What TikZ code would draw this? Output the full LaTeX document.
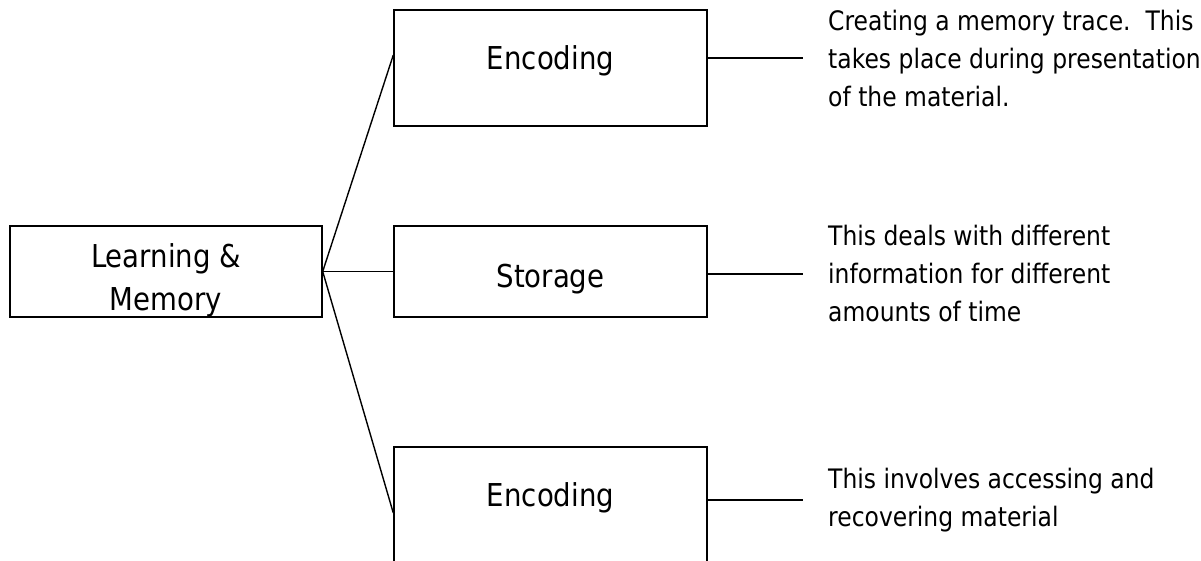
\documentclass[tikz,border=0pt]{standalone}
\usepackage{fontspec}
\setmainfont{DejaVu Sans}[FakeStretch=0.875]
\begin{document}
\begin{tikzpicture}[x=1pt,y=-1pt,
  box/.style={draw,line width=1.4pt,inner sep=0pt},
  boxtext/.style={inner sep=0pt,align=center,font=\fontsize{31.5}{43}\selectfont},
  note/.style={anchor=west,inner sep=0pt,align=left,font=\fontsize{26.8}{38}\selectfont},
  conn/.style={line width=1.4pt}]
\useasboundingbox (0,0) rectangle (1201,561);
\node[box,minimum width=312pt,minimum height=91pt] (lm) at (166,271.5) {};
\node[box,minimum width=313pt,minimum height=116pt] (enc) at (550.5,68) {};
\node[box,minimum width=313pt,minimum height=91pt] (sto) at (550.5,271.5) {};
\node[box,minimum width=313pt,minimum height=130pt] (ret) at (550.5,512) {};
\node[boxtext] (lmt) at (166,280) {Learning \&\\Memory};
\node[boxtext] (enct) at (550.5,61) {Encoding};
\node[boxtext] (stot) at (550.5,279) {Storage};
\node[boxtext] (rett) at (550.5,498) {Encoding};
\coordinate (e1) at (803,58);
\coordinate (e2) at (803,274);
\coordinate (e3) at (803,500);
\node[note] (t1) at (828,58.5) {Creating a memory trace.\ \ This\\takes place during presentation\\of the material.};
\node[note] (t2) at (828,274) {This deals with different\\information for different\\amounts of time};
\node[note] (t3) at (828,500) {This involves accessing and\\recovering material};
\draw[conn] (lm.east) -- (enc.west |- 0,55);
\draw[conn] (lm.east) -- (sto.west);
\draw[conn] (lm.east) -- (ret.west |- 0,513);
\draw[conn] (enc.east |- e1) -- (e1);
\draw[conn] (sto.east |- e2) -- (e2);
\draw[conn] (ret.east |- e3) -- (e3);
\end{tikzpicture}
\end{document}
